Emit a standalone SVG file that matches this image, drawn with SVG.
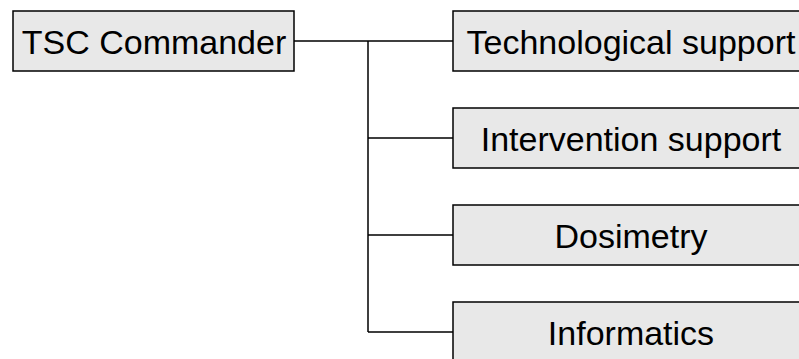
<svg xmlns="http://www.w3.org/2000/svg" width="799" height="359" viewBox="0 0 799 359">
<style>
.box{fill:#e8e8e8;stroke:#000;stroke-width:1.5}
.lbl{font-family:"Liberation Sans",Arial,sans-serif;font-size:34px;fill:#000;text-anchor:middle}
.conn{fill:none;stroke:#000;stroke-width:1.5}
</style>
<rect width="799" height="359" fill="#fff"/>
<g id="connectors">
<path class="conn" d="M294 41 H453 M368 41 V332 M368 138 H453 M368 235 H453 M368 332 H453"/>
</g>
<g id="tsc">
<rect class="box" x="13" y="11" width="281" height="60"/>
<text class="lbl" x="154" y="54">TSC Commander</text>
</g>
<g id="tech">
<rect class="box" x="453" y="11" width="356" height="60"/>
<text class="lbl" x="631" y="54">Technological support</text>
</g>
<g id="intervention">
<rect class="box" x="453" y="108" width="356" height="60"/>
<text class="lbl" x="631" y="151">Intervention support</text>
</g>
<g id="dosimetry">
<rect class="box" x="453" y="205" width="356" height="60"/>
<text class="lbl" x="631" y="248">Dosimetry</text>
</g>
<g id="informatics">
<rect class="box" x="453" y="302" width="356" height="60"/>
<text class="lbl" x="631" y="345">Informatics</text>
</g>
</svg>
